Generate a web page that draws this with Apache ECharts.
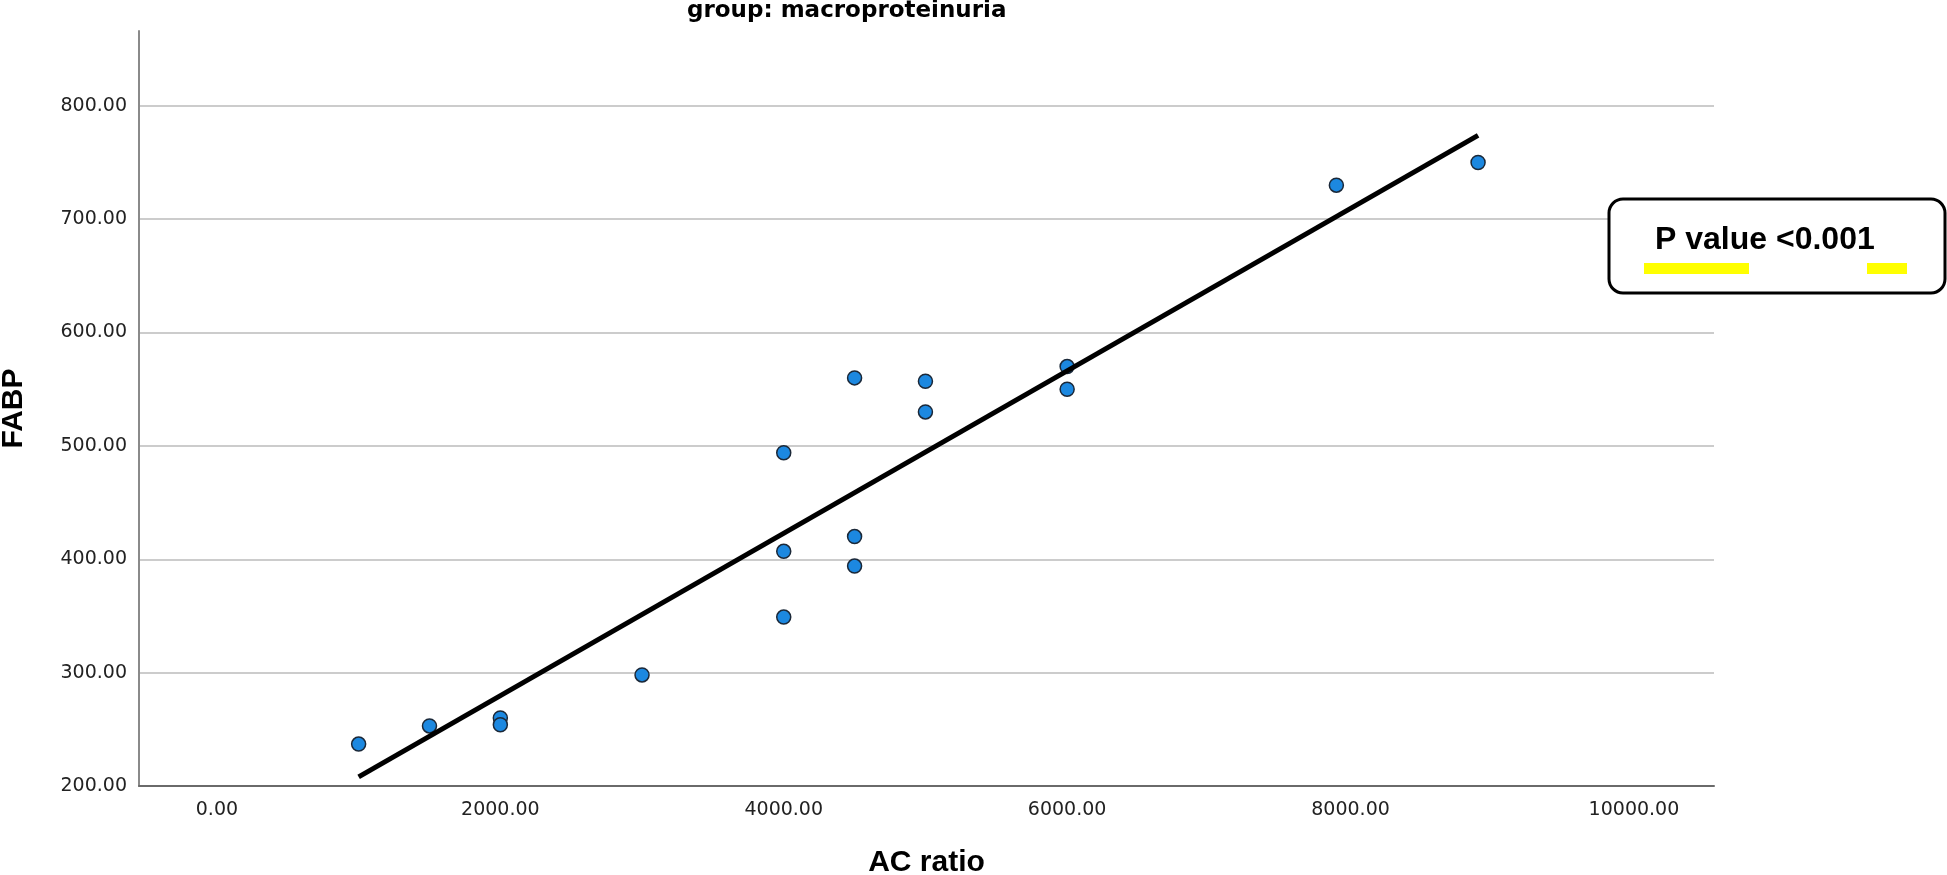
<!DOCTYPE html>
<html>
<head>
<meta charset="utf-8">
<script src="https://cdn.jsdelivr.net/npm/echarts@6/dist/echarts.min.js"></script>
<style>
  html, body { margin: 0; padding: 0; background: #fff; }
  #chart { width: 1947px; height: 875px; }
</style>
</head>
<body>
<div id="chart"></div>
<script>
// ---- data ----
const titleText = 'group: macroproteinuria';
const xName = 'AC ratio';
const yName = 'FABP';
const acRatio = [1000, 1500, 2000, 2000, 3000, 4000, 4000, 4000, 4500, 4500, 4500, 5000, 5000, 6000, 6000, 7900, 8900];
const fabp    = [ 237,  253,  260,  254,  298,  494,  407,  349,  560,  420,  394,  557,  530,  570,  550,  730,  750];
const fitX = [1000, 8900];
const fitY = [208, 774];
const xTicks = [0, 2000, 4000, 6000, 8000, 10000];
const yTicks = [200, 300, 400, 500, 600, 700, 800];
const pText = 'P value <0.001';

const points = acRatio.map((x, i) => [x, fabp[i]]);
const fitLine = fitX.map((x, i) => [x, fitY[i]]);

const chart = echarts.init(document.getElementById('chart'), null, { renderer: 'canvas' });
chart.setOption({
  backgroundColor: '#ffffff',
  animation: false,
  title: {
    text: titleText,
    left: 687,
    top: 0,
    padding: 0,
    textStyle: { fontFamily: 'DejaVu Sans', fontWeight: 'bold', fontSize: 23, color: '#000' }
  },
  grid: { left: 139, right: 233, top: 31, bottom: 89, containLabel: false, outerBoundsMode: 'none' },
  xAxis: {
    type: 'value',
    min: -550,
    max: 10565,
    name: xName,
    nameLocation: 'middle',
    nameGap: 62,
    nameTextStyle: { fontFamily: 'Liberation Sans', fontWeight: 'bold', fontSize: 30, color: '#000' },
    axisLine: { show: true, onZero: false, lineStyle: { color: '#6a6a6a', width: 2 } },
    axisTick: { show: false, customValues: xTicks },
    axisLabel: {
      customValues: xTicks,
      margin: 15,
      fontFamily: 'DejaVu Sans',
      fontSize: 19,
      color: '#222',
      formatter: v => Number(v).toFixed(2)
    },
    splitLine: { show: false }
  },
  yAxis: {
    type: 'value',
    min: 200,
    max: 866,
    interval: 100,
    name: yName,
    nameLocation: 'middle',
    nameGap: 110,
    nameTextStyle: { fontFamily: 'Liberation Sans', fontWeight: 'bold', fontSize: 30, color: '#000' },
    axisLine: { show: true, onZero: false, lineStyle: { color: '#8a8a8a', width: 2 } },
    axisTick: { show: false },
    axisLabel: {
      showMaxLabel: false,
      margin: 12,
      padding: [8, 0, 0, 0],
      fontFamily: 'DejaVu Sans',
      fontSize: 19,
      color: '#222',
      formatter: v => (yTicks.indexOf(v) >= 0 ? Number(v).toFixed(2) : '')
    },
    splitLine: { show: true, showMinLine: false, showMaxLine: false, lineStyle: { color: '#cccccc', width: 2 } }
  },
  series: [
    {
      type: 'scatter',
      data: points,
      symbol: 'circle',
      symbolSize: 14,
      itemStyle: { color: '#1c88e0', borderColor: '#1b2838', borderWidth: 1.5, opacity: 1 },
      z: 2
    },
    {
      type: 'line',
      data: fitLine,
      symbol: 'none',
      lineStyle: { color: '#000', width: 5 },
      z: 3
    }
  ],
  graphic: [
    {
      type: 'rect',
      shape: { x: 1609, y: 199, width: 336, height: 94, r: 14 },
      style: { fill: '#fff', stroke: '#000', lineWidth: 3 },
      z: 10
    },
    {
      type: 'rect',
      shape: { x: 1644, y: 263, width: 105, height: 11 },
      style: { fill: '#ffff00' },
      z: 11
    },
    {
      type: 'rect',
      shape: { x: 1867, y: 263, width: 40, height: 11 },
      style: { fill: '#ffff00' },
      z: 11
    },
    {
      type: 'text',
      style: {
        x: 1655, y: 240,
        text: pText,
        font: 'bold 32px "Liberation Sans"',
        fill: '#000',
        textAlign: 'left',
        textVerticalAlign: 'middle'
      },
      z: 12
    }
  ]
});
</script>
</body>
</html>
